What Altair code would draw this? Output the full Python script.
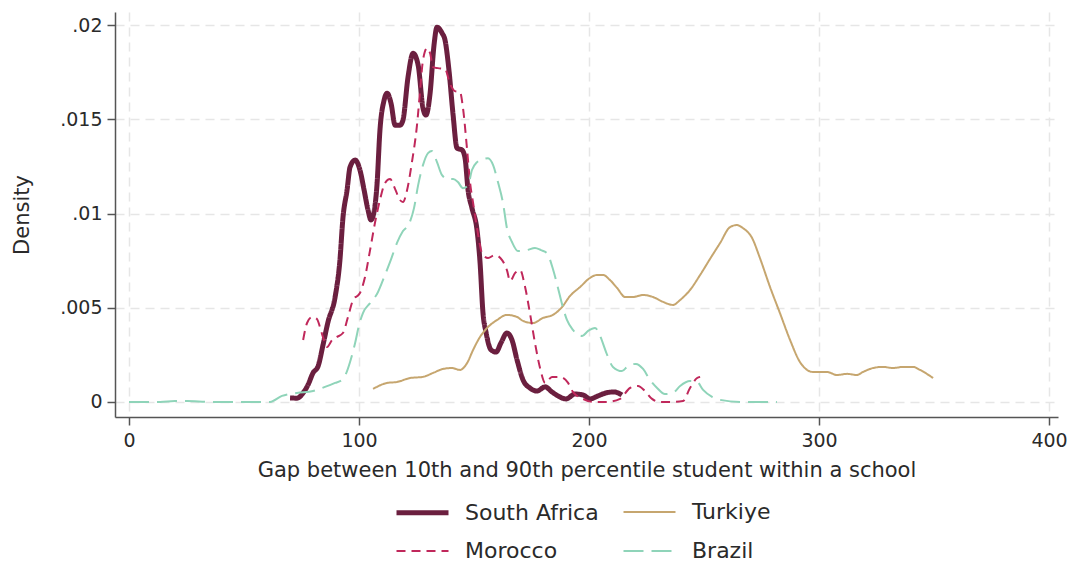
import altair as alt
import pandas as pd

series_names = ["South Africa", "Turkiye", "Morocco", "Brazil"]
series_colors = ["#6b1f3f", "#c6a66f", "#c0285b", "#8fd4b9"]
series_dashes = [[1, 0], [1, 0], [9, 6], [20, 8]]
series_widths = [5, 2, 2, 2]

x_ticks = [0, 100, 200, 300, 400]
y_ticks = [0, 0.005, 0.01, 0.015, 0.02]

sa_x = [70.0, 73.0, 75.7, 77.8, 80.0, 82.2, 84.3, 86.5, 89.6, 91.7, 93.0, 94.8, 96.1, 98.3, 100.4,
        102.2, 103.9, 105.2, 106.5, 107.8, 109.1, 110.9, 112.2, 113.9, 115.7, 117.8, 119.1, 121.3,
        123.5, 125.7, 127.8, 129.1, 130.9, 132.6, 133.9, 136.1, 137.4, 139.1, 140.9, 142.6, 144.8,
        146.1, 147.4, 149.1, 151.3, 152.6, 153.9, 155.2, 157.4, 159.6, 161.7, 164.3, 166.5, 168.7,
        171.3, 174.3, 177.4, 180.9, 183.9, 186.5, 190.0, 193.9, 197.4, 200.4, 203.9, 207.4, 210.9, 214.3]
sa_y = [.00021, .0002, .00048, .0009, .00154, .0019, .0030, .00424, .00557, .00753, .00976, .01125,
        .01247, .01284, .01231, .01125, .01019, .00966, .01008, .01151, .01443, .01602, .01639, .01586,
        .01469, .01469, .01496, .01724, .01851, .01788, .0156, .01523, .01639, .01894, .01989, .01958,
        .0192, .01761, .01523, .01347, .01337, .01294, .01125, .01029, .00912, .00743, .00472, .00371,
        .00276, .00265, .00313, .00366, .00329, .00223, .00117, .00074, .00058, .0008, .00053, .00032,
        .00016, .00042, .00037, .00016, .00032, .00048, .00053, .00037]

mo_x = [75.7, 77.4, 79.6, 81.7, 83.0, 84.3, 86.1, 88.3, 90.4, 93.0, 95.2, 97.4, 100.4, 102.6, 104.8,
        107.0, 109.1, 111.3, 113.5, 115.7, 117.8, 119.1, 120.9, 123.0, 125.2, 126.5, 127.8, 129.6,
        130.9, 132.2, 134.3, 137.4, 139.6, 141.7, 143.9, 145.2, 147.0, 148.3, 149.6, 151.3, 153.5,
        156.1, 159.1, 162.2, 164.3, 165.7, 167.8, 170.0, 172.2, 174.3, 176.5, 178.7, 180.9, 183.9,
        187.4, 190.9, 193.0, 197.4, 201.7, 207.8, 213.5, 217.8, 221.3, 224.3, 227.4, 230.9, 236.5,
        240.9, 243.9, 247.0, 248.3]
mo_y = [.00329, .00419, .00451, .0044, .00398, .00345, .00292, .00329, .00345, .00366, .00451, .00541,
        .00578, .00663, .00806, .00955, .01072, .01162, .01183, .0113, .01072, .01061, .01125, .01273,
        .01469, .01645, .01814, .01878, .01851, .01777, .01772, .01767, .01687, .0165, .01645, .0156,
        .01337, .01162, .01056, .00923, .0079, .00764, .0078, .00753, .007, .00642, .00684, .007, .0061,
        .00472, .00313, .0018, .00101, .00133, .00133, .00101, .00053, .00016, 0, 0, .00016, .00074,
        .00085, .00058, .00016, 0, 0, .00005, .00074, .00127, .00133]

tu_x = [106.1, 112.2, 116.5, 122.2, 127.8, 132.2, 136.5, 140.4, 143.9, 147.0, 149.6, 152.6, 155.7,
        160.0, 164.3, 168.7, 171.3, 175.7, 180.0, 184.3, 188.3, 191.7, 196.1, 200.4, 203.5, 206.1,
        209.1, 212.2, 215.7, 219.1, 223.5, 227.8, 232.2, 236.5, 239.6, 243.9, 248.3, 252.6, 257.0,
        261.3, 264.3, 266.9, 270.9, 274.3, 278.7, 283.0, 287.4, 291.7, 294.8, 297.4, 303.5, 307.8,
        312.2, 316.5, 319.1, 323.5, 327.8, 332.2, 336.5, 340.9, 343.9, 349.6]
tu_y = [.00069, .00101, .00106, .00127, .00133, .00154, .00175, .0018, .0017, .00207, .00276, .00345,
        .00393, .00435, .00462, .00451, .0043, .00419, .00446, .00462, .00504, .00562, .0061, .00658,
        .00674, .00674, .00647, .00605, .00557, .00557, .00568, .00557, .00531, .00515, .00541, .00594,
        .00674, .00759, .00844, .00928, .00939, .00923, .0087, .00764, .0061, .00472, .00329, .00212,
        .0017, .00159, .00159, .00143, .00149, .00143, .00159, .0018, .00186, .0018, .00186, .00186,
        .0017, .00127]

br_x = [0.0, 13.5, 20.0, 25.2, 35.2, 48.3, 61.3, 66.5, 73.0, 80.0, 85.2, 89.6, 92.6, 94.3, 96.1, 98.3,
        100.0, 101.7, 104.8, 107.8, 110.4, 113.5, 116.5, 119.1, 121.7, 123.9, 125.7, 127.8, 130.0,
        131.7, 133.9, 136.1, 138.7, 140.9, 143.0, 145.2, 147.4, 149.1, 151.3, 153.9, 156.1, 158.3,
        160.4, 162.6, 164.3, 166.5, 169.1, 173.0, 176.5, 179.1, 181.7, 184.3, 186.5, 188.7, 190.4,
        193.0, 197.0, 199.6, 202.6, 204.8, 207.4, 210.4, 214.3, 217.0, 220.4, 223.5, 226.5, 229.6,
        233.0, 236.5, 239.6, 243.9, 247.0, 249.6, 253.5, 257.0, 265.7, 281.7]
br_y = [0, 0, .00005, .00005, 0, 0, 0, .00032, .00048, .00058, .0008, .00101, .00117, .00149, .00212,
        .00313, .00408, .00472, .00525, .00573, .00647, .00743, .00844, .00907, .00944, .01029, .01151,
        .01257, .01321, .01332, .01273, .01204, .01183, .01183, .01167, .01135, .01151, .01231, .01273,
        .01289, .01294, .01257, .01167, .01056, .00923, .00849, .00801, .00806, .00817, .00806, .0079,
        .00706, .00605, .00499, .00435, .00382, .0035, .00377, .00393, .0035, .00265, .00186, .00164,
        .00191, .00202, .00175, .00117, .00074, .00042, .00048, .00085, .00111, .00106, .00064, .00027,
        .00011, 0, 0]

rows = []
for name, xs, ys in [("South Africa", sa_x, sa_y), ("Turkiye", tu_x, tu_y),
                     ("Morocco", mo_x, mo_y), ("Brazil", br_x, br_y)]:
    assert len(xs) == len(ys), name
    for i, (xv, yv) in enumerate(zip(xs, ys)):
        rows.append({"country": name, "gap": xv, "density": yv, "idx": i})
df = pd.DataFrame(rows)

FONT = "DejaVu Sans"
TEXT = "#2a2a2a"
AXIS = "#555555"
GRID = "#e6e6e6"

leg = alt.Legend(title=None, orient="none", legendX=279, legendY=472,
                 direction="horizontal", columns=2,
                 symbolType="stroke", symbolSize=2704, labelFontSize=22, labelFont=FONT,
                 labelColor=TEXT, labelOffset=14, columnPadding=20, rowPadding=-40, padding=0)

chart = alt.Chart(df).mark_line(strokeCap="butt", strokeJoin="round", interpolate="monotone").encode(
    x=alt.X("gap:Q",
            scale=alt.Scale(domain=[-6.1, 403.9], nice=False, zero=False),
            axis=alt.Axis(values=x_ticks, title="Gap between 10th and 90th percentile student within a school",
                          labelPadding=6, titlePadding=9)),
    y=alt.Y("density:Q",
            scale=alt.Scale(domain=[-0.0008, 0.0207], nice=False, zero=False),
            axis=alt.Axis(values=y_ticks, title="Density",
                          labelExpr="replace(format(datum.value, '.3~f'), '0.', '.')",
                          labelPadding=5, titlePadding=27)),
    color=alt.Color("country:N", scale=alt.Scale(domain=series_names, range=series_colors), legend=leg),
    strokeDash=alt.StrokeDash("country:N", scale=alt.Scale(domain=series_names, range=series_dashes), legend=leg),
    strokeWidth=alt.StrokeWidth("country:N",
                                scale=alt.Scale(type="ordinal", domain=series_names, range=series_widths),
                                legend=leg),
    order=alt.Order("idx:Q"),
).properties(
    width=943, height=405,
    autosize=alt.AutoSizeParams(type="none"),
    padding={"left": 107, "top": 4, "right": 10, "bottom": 148},
).configure_view(stroke=None).configure_axis(
    domainColor=AXIS, domainWidth=1.5, tickColor=AXIS, tickWidth=1.5, tickSize=8,
    labelFont=FONT, labelFontSize=19, labelColor=TEXT,
    titleFont=FONT, titleFontSize=21, titleColor=TEXT, titleFontWeight="normal",
    grid=True, gridColor=GRID, gridDash=[9, 6], gridWidth=1.5,
)

chart.save("out.html", embed_options={"renderer": "svg", "actions": False})
